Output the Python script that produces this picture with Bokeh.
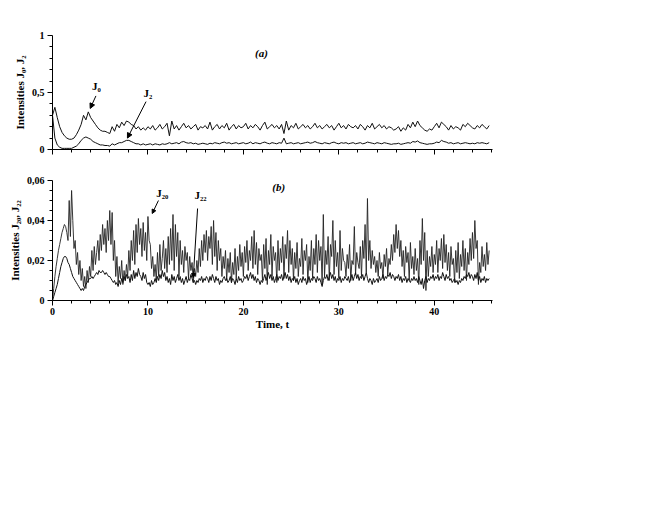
import numpy as np
from bokeh.plotting import figure
from bokeh.layouts import column
from bokeh.models import FixedTicker, CustomJSTickFormatter, Label, Arrow, NormalHead
from bokeh.embed import file_html
from bokeh.resources import INLINE

# ---------------- data ----------------
STEP_A = 0.25   # sampling step of panel (a)
STEP_B = 0.125  # sampling step of panel (b)

J0 = [
    0.30, 0.37, 0.28, 0.20, 0.15, 0.12, 0.10, 0.09, 0.09, 0.10, 0.13, 0.17, 0.22, 0.30, 0.26, 0.33,
    0.28, 0.25, 0.22, 0.19, 0.17, 0.16, 0.16, 0.15, 0.14, 0.20, 0.16, 0.22, 0.19, 0.24, 0.21, 0.25,
    0.24, 0.22, 0.21, 0.18, 0.20, 0.17, 0.19, 0.17, 0.20, 0.18, 0.21, 0.17, 0.19, 0.22, 0.18, 0.20,
    0.23, 0.12, 0.25, 0.18, 0.21, 0.17, 0.20, 0.23, 0.19, 0.21, 0.18, 0.20, 0.22, 0.17, 0.20, 0.19,
    0.21, 0.18, 0.24, 0.17, 0.20, 0.22, 0.18, 0.21, 0.19, 0.23, 0.17, 0.20, 0.22, 0.18, 0.21, 0.19,
    0.20, 0.23, 0.18, 0.21, 0.19, 0.22, 0.20, 0.17, 0.21, 0.24, 0.18, 0.20, 0.22, 0.19, 0.21, 0.18,
    0.22, 0.14, 0.25, 0.17, 0.21, 0.19, 0.23, 0.18, 0.20, 0.22, 0.19, 0.21, 0.18, 0.20, 0.23, 0.19,
    0.21, 0.18, 0.20, 0.22, 0.19, 0.21, 0.17, 0.20, 0.23, 0.19, 0.21, 0.18, 0.22, 0.20, 0.19, 0.21,
    0.18, 0.22, 0.20, 0.17, 0.21, 0.19, 0.23, 0.18, 0.20, 0.22, 0.19, 0.21, 0.18, 0.20, 0.19, 0.17,
    0.18, 0.20, 0.16, 0.19, 0.17, 0.22, 0.19, 0.24, 0.20, 0.25, 0.21, 0.19, 0.17, 0.16, 0.18, 0.17,
    0.20, 0.23, 0.19, 0.24, 0.22, 0.20, 0.17, 0.21, 0.18, 0.20, 0.19, 0.17, 0.22, 0.20, 0.23, 0.21,
    0.19, 0.18, 0.21, 0.19, 0.22, 0.20, 0.18, 0.21,
]

J2 = [
    0.30, 0.10, 0.04, 0.02, 0.01, 0.01, 0.01, 0.01, 0.01, 0.02, 0.03, 0.05, 0.08, 0.10, 0.11, 0.10,
    0.09, 0.07, 0.06, 0.05, 0.04, 0.04, 0.035, 0.035, 0.03, 0.05, 0.04, 0.05, 0.06, 0.06, 0.07, 0.08,
    0.08, 0.07, 0.06, 0.05, 0.05, 0.04, 0.05, 0.04, 0.045, 0.05, 0.04, 0.05, 0.045, 0.04, 0.05, 0.045,
    0.05, 0.06, 0.05, 0.055, 0.06, 0.05, 0.065, 0.07, 0.06, 0.055, 0.06, 0.05, 0.055, 0.045, 0.05, 0.055,
    0.05, 0.045, 0.055, 0.05, 0.06, 0.055, 0.05, 0.06, 0.065, 0.055, 0.06, 0.05, 0.055, 0.06, 0.05, 0.055,
    0.06, 0.05, 0.055, 0.065, 0.05, 0.06, 0.055, 0.05, 0.06, 0.065, 0.055, 0.05, 0.06, 0.055, 0.05, 0.06,
    0.055, 0.10, 0.05, 0.055, 0.06, 0.05, 0.055, 0.06, 0.05, 0.055, 0.06, 0.065, 0.055, 0.06, 0.07, 0.06,
    0.055, 0.05, 0.06, 0.055, 0.05, 0.06, 0.065, 0.055, 0.05, 0.06, 0.055, 0.06, 0.05, 0.055, 0.06, 0.05,
    0.055, 0.06, 0.05, 0.055, 0.065, 0.06, 0.055, 0.05, 0.06, 0.055, 0.05, 0.06, 0.055, 0.05, 0.045, 0.05,
    0.05, 0.055, 0.045, 0.05, 0.055, 0.06, 0.055, 0.07, 0.065, 0.075, 0.06, 0.055, 0.05, 0.045, 0.05, 0.05,
    0.055, 0.065, 0.06, 0.08, 0.07, 0.065, 0.055, 0.06, 0.05, 0.055, 0.06, 0.05, 0.055, 0.06, 0.055, 0.05,
    0.055, 0.05, 0.06, 0.055, 0.06, 0.055, 0.05, 0.06,
]

J20 = [
    0.000, 0.006, 0.012, 0.017, 0.021, 0.025, 0.028, 0.031, 0.034, 0.036, 0.038, 0.037, 0.034, 0.030, 0.050, 0.032,
    0.055, 0.040, 0.026, 0.030, 0.018, 0.024, 0.013, 0.020, 0.010, 0.016, 0.007, 0.012, 0.006, 0.015, 0.009, 0.017,
    0.012, 0.025, 0.015, 0.027, 0.018, 0.024, 0.030, 0.020, 0.033, 0.025, 0.038, 0.028, 0.036, 0.024, 0.040, 0.030,
    0.045, 0.028, 0.044, 0.020, 0.030, 0.012, 0.022, 0.009, 0.017, 0.011, 0.020, 0.008, 0.015, 0.010, 0.018, 0.012,
    0.025, 0.015, 0.030, 0.020, 0.035, 0.018, 0.038, 0.024, 0.041, 0.028, 0.036, 0.022, 0.039, 0.025, 0.034, 0.020,
    0.042, 0.030, 0.028, 0.016, 0.022, 0.012, 0.018, 0.010, 0.024, 0.012, 0.028, 0.015, 0.021, 0.030, 0.016, 0.026,
    0.014, 0.032, 0.018, 0.036, 0.020, 0.043, 0.015, 0.038, 0.022, 0.034, 0.012, 0.030, 0.018, 0.025, 0.014, 0.027,
    0.020, 0.024, 0.011, 0.022, 0.015, 0.019, 0.009, 0.016, 0.012, 0.020, 0.014, 0.026, 0.017, 0.030, 0.020, 0.033,
    0.024, 0.035, 0.020, 0.032, 0.026, 0.037, 0.018, 0.040, 0.022, 0.034, 0.015, 0.030, 0.020, 0.026, 0.012, 0.022,
    0.016, 0.025, 0.010, 0.021, 0.014, 0.024, 0.009, 0.019, 0.013, 0.026, 0.011, 0.022, 0.015, 0.028, 0.017, 0.024,
    0.012, 0.027, 0.019, 0.030, 0.015, 0.025, 0.020, 0.032, 0.016, 0.035, 0.018, 0.029, 0.013, 0.026, 0.020, 0.023,
    0.010, 0.028, 0.016, 0.031, 0.008, 0.025, 0.018, 0.033, 0.012, 0.027, 0.020, 0.024, 0.009, 0.030, 0.015, 0.026,
    0.019, 0.032, 0.011, 0.028, 0.021, 0.035, 0.014, 0.030, 0.018, 0.026, 0.010, 0.024, 0.016, 0.029, 0.012, 0.021,
    0.017, 0.031, 0.013, 0.025, 0.020, 0.028, 0.009, 0.022, 0.015, 0.030, 0.011, 0.026, 0.018, 0.033, 0.014, 0.030,
    0.020, 0.027, 0.008, 0.043, 0.012, 0.025, 0.018, 0.032, 0.010, 0.028, 0.022, 0.040, 0.013, 0.030, 0.017, 0.024,
    0.011, 0.035, 0.015, 0.026, 0.020, 0.019, 0.012, 0.023, 0.016, 0.028, 0.010, 0.020, 0.018, 0.037, 0.013, 0.024,
    0.019, 0.016, 0.027, 0.012, 0.030, 0.021, 0.038, 0.014, 0.051, 0.020, 0.030, 0.016, 0.025, 0.018, 0.022, 0.014,
    0.020, 0.012, 0.024, 0.016, 0.019, 0.011, 0.023, 0.017, 0.026, 0.013, 0.021, 0.018, 0.028, 0.020, 0.033, 0.024,
    0.038, 0.026, 0.035, 0.022, 0.030, 0.017, 0.025, 0.012, 0.027, 0.019, 0.024, 0.010, 0.029, 0.016, 0.022, 0.013,
    0.026, 0.015, 0.021, 0.008, 0.030, 0.018, 0.041, 0.020, 0.034, 0.005, 0.025, 0.012, 0.022, 0.017, 0.027, 0.014,
    0.023, 0.018, 0.030, 0.014, 0.026, 0.020, 0.031, 0.016, 0.033, 0.019, 0.028, 0.015, 0.024, 0.012, 0.027, 0.018,
    0.021, 0.009, 0.025, 0.014, 0.029, 0.011, 0.023, 0.017, 0.030, 0.015, 0.026, 0.010, 0.024, 0.018, 0.031, 0.020,
    0.034, 0.021, 0.040, 0.026, 0.030, 0.008, 0.019, 0.014, 0.027, 0.017, 0.023, 0.015, 0.029, 0.018, 0.025,
]

J22 = [
    0.000, 0.002, 0.004, 0.006, 0.008, 0.011, 0.014, 0.017, 0.019, 0.021, 0.022, 0.022, 0.021, 0.019, 0.018, 0.016,
    0.014, 0.012, 0.011, 0.010, 0.009, 0.008, 0.007, 0.006, 0.005, 0.006, 0.005, 0.007, 0.008, 0.009, 0.010, 0.011,
    0.011, 0.012, 0.011, 0.012, 0.013, 0.014, 0.013, 0.015, 0.014, 0.014, 0.015, 0.014, 0.013, 0.014, 0.013, 0.012,
    0.012, 0.011, 0.010, 0.009, 0.010, 0.008, 0.009, 0.007, 0.010, 0.008, 0.011, 0.009, 0.012, 0.010, 0.013, 0.011,
    0.012, 0.009, 0.013, 0.010, 0.015, 0.011, 0.014, 0.012, 0.016, 0.013, 0.012, 0.010, 0.014, 0.011, 0.013, 0.009,
    0.008, 0.009, 0.007, 0.010, 0.008, 0.009, 0.011, 0.009, 0.012, 0.010, 0.013, 0.011, 0.015, 0.012, 0.014, 0.010,
    0.012, 0.009, 0.011, 0.008, 0.013, 0.010, 0.012, 0.009, 0.011, 0.013, 0.010, 0.012, 0.009, 0.011, 0.008, 0.010,
    0.012, 0.009, 0.011, 0.010, 0.013, 0.011, 0.009, 0.010, 0.008, 0.010, 0.009, 0.011, 0.010, 0.012, 0.009, 0.011,
    0.010, 0.012, 0.011, 0.009, 0.012, 0.010, 0.013, 0.011, 0.009, 0.012, 0.010, 0.011, 0.008, 0.010, 0.009, 0.011,
    0.012, 0.010, 0.011, 0.009, 0.010, 0.012, 0.009, 0.011, 0.010, 0.008, 0.011, 0.009, 0.012, 0.010, 0.011, 0.009,
    0.010, 0.012, 0.011, 0.013, 0.010, 0.012, 0.014, 0.011, 0.013, 0.010, 0.012, 0.009, 0.011, 0.010, 0.008, 0.010,
    0.009, 0.011, 0.013, 0.010, 0.012, 0.014, 0.011, 0.013, 0.010, 0.012, 0.009, 0.011, 0.013, 0.010, 0.012, 0.011,
    0.013, 0.010, 0.012, 0.014, 0.011, 0.013, 0.010, 0.012, 0.009, 0.011, 0.010, 0.012, 0.009, 0.011, 0.008, 0.010,
    0.011, 0.009, 0.012, 0.010, 0.011, 0.008, 0.010, 0.012, 0.009, 0.011, 0.010, 0.012, 0.011, 0.009, 0.012, 0.010,
    0.011, 0.009, 0.007, 0.010, 0.012, 0.011, 0.013, 0.010, 0.012, 0.014, 0.011, 0.013, 0.010, 0.012, 0.009, 0.011,
    0.010, 0.012, 0.009, 0.011, 0.010, 0.012, 0.011, 0.010, 0.012, 0.009, 0.011, 0.013, 0.010, 0.012, 0.014, 0.011,
    0.013, 0.010, 0.012, 0.011, 0.013, 0.010, 0.012, 0.014, 0.011, 0.009, 0.011, 0.010, 0.008, 0.011, 0.009, 0.010,
    0.011, 0.009, 0.012, 0.010, 0.011, 0.013, 0.010, 0.012, 0.011, 0.013, 0.012, 0.014, 0.011, 0.013, 0.012, 0.010,
    0.012, 0.011, 0.013, 0.010, 0.012, 0.009, 0.011, 0.010, 0.012, 0.009, 0.011, 0.010, 0.009, 0.011, 0.010, 0.012,
    0.010, 0.011, 0.009, 0.012, 0.010, 0.008, 0.011, 0.006, 0.010, 0.012, 0.009, 0.011, 0.010, 0.012, 0.011, 0.013,
    0.010, 0.012, 0.011, 0.013, 0.010, 0.012, 0.011, 0.014, 0.012, 0.010, 0.013, 0.011, 0.012, 0.010, 0.011, 0.009,
    0.010, 0.011, 0.009, 0.010, 0.008, 0.010, 0.009, 0.011, 0.010, 0.012, 0.011, 0.013, 0.012, 0.014, 0.011, 0.013,
    0.012, 0.010, 0.013, 0.011, 0.014, 0.010, 0.012, 0.009, 0.011, 0.010, 0.012, 0.009, 0.011, 0.010, 0.011,
]

T_A = np.arange(len(J0)) * STEP_A
T_B = np.arange(len(J20)) * STEP_B

X_MAJOR = [0, 10, 20, 30, 40]
X_MINOR = [2, 4, 6, 8, 12, 14, 16, 18, 22, 24, 26, 28, 32, 34, 36, 38, 42, 44, 46]
YA_MAJOR = [0, 0.5, 1]
YA_MINOR = [0.1, 0.2, 0.3, 0.4, 0.6, 0.7, 0.8, 0.9]
YB_MAJOR = [0, 0.02, 0.04, 0.06]
YB_MINOR = [0.005, 0.01, 0.015, 0.025, 0.03, 0.035, 0.045, 0.05, 0.055]

FONT = "Liberation Serif"
fmt = "return tick.toString().replace('.', ',');"


def style(p, ymaj, ymin, show_x_labels):
    p.grid.visible = False
    p.outline_line_color = None
    p.background_fill_color = None
    p.border_fill_color = None
    p.xaxis.ticker = FixedTicker(ticks=X_MAJOR, minor_ticks=X_MINOR)
    p.yaxis.ticker = FixedTicker(ticks=ymaj, minor_ticks=ymin)
    p.yaxis.formatter = CustomJSTickFormatter(code=fmt)
    for ax in (p.xaxis[0], p.yaxis[0]):
        ax.axis_line_color = "black"
        ax.axis_line_width = 1
        ax.major_tick_line_color = "black"
        ax.minor_tick_line_color = "black"
        ax.major_tick_in = 0
        ax.major_tick_out = 5
        ax.minor_tick_in = 0
        ax.minor_tick_out = 3
        ax.major_label_text_font = FONT
        ax.major_label_text_font_style = "bold"
        ax.major_label_text_font_size = "10px"
        ax.major_label_text_color = "black"
        ax.axis_label_text_font = FONT
        ax.axis_label_text_font_style = "bold"
        ax.axis_label_text_font_size = "11px"
        ax.axis_label_text_color = "black"
        ax.major_label_standoff = 3
        ax.axis_label_standoff = 3
    if not show_x_labels:
        p.xaxis.formatter = CustomJSTickFormatter(code="return '';")
        p.xaxis.major_label_standoff = 0


def label(p, x, y, text, size="11px", style_="bold"):
    p.add_layout(Label(x=x, y=y, text=text, text_font=FONT, text_font_style=style_,
                       text_font_size=size, text_align="center", text_baseline="middle",
                       text_color="black"))


def arrow(p, xs, ys, xe, ye, size=5):
    p.add_layout(Arrow(end=NormalHead(size=size, fill_color="black", line_color="black", line_width=1),
                       x_start=xs, y_start=ys, x_end=xe, y_end=ye,
                       line_color="black", line_width=1))


# ---------------- panel (a) ----------------
pa = figure(frame_width=440, frame_height=114, x_range=(0, 46.1), y_range=(0, 1),
            min_border_left=52, min_border_right=20, min_border_top=35, min_border_bottom=10,
            output_backend="svg", toolbar_location=None)
style(pa, YA_MAJOR, YA_MINOR, False)
pa.yaxis.axis_label = "Intensities J\u2080, J\u2082"
pa.line(T_A, J0, line_color="#111111", line_width=1)
pa.line(T_A, J2, line_color="#111111", line_width=1)
label(pa, 21.9, 0.85, "(a)", "11px", "bold italic")
label(pa, 4.6, 0.56, "J\u2080")
label(pa, 10.0, 0.50, "J\u2082")
arrow(pa, 4.55, 0.47, 3.95, 0.36)
arrow(pa, 9.8, 0.42, 7.85, 0.10)

# ---------------- panel (b) ----------------
pb = figure(frame_width=440, frame_height=120, x_range=(0, 46.1), y_range=(0, 0.06),
            min_border_left=52, min_border_right=20, min_border_top=21, min_border_bottom=40,
            output_backend="svg", toolbar_location=None)
style(pb, YB_MAJOR, YB_MINOR, True)
pb.xaxis.major_label_standoff = 2
pb.xaxis.axis_label_standoff = 0
pb.yaxis.axis_label = "Intensities J\u2082\u2080, J\u2082\u2082"
pb.xaxis.axis_label = "Time, t"
pb.line(T_B, J20, line_color="#222222", line_width=0.9)
pb.line(T_B, J22, line_color="#111111", line_width=1)
label(pb, 23.7, 0.057, "(b)", "11px", "bold italic")
label(pb, 11.5, 0.054, "J\u2082\u2080")
label(pb, 15.5, 0.053, "J\u2082\u2082")
arrow(pb, 11.1, 0.050, 10.45, 0.0435, 4)
arrow(pb, 15.2, 0.046, 14.75, 0.0115, 4)

layout = column(pa, pb, spacing=0)
open("out.html", "w").write(file_html(layout, INLINE))
